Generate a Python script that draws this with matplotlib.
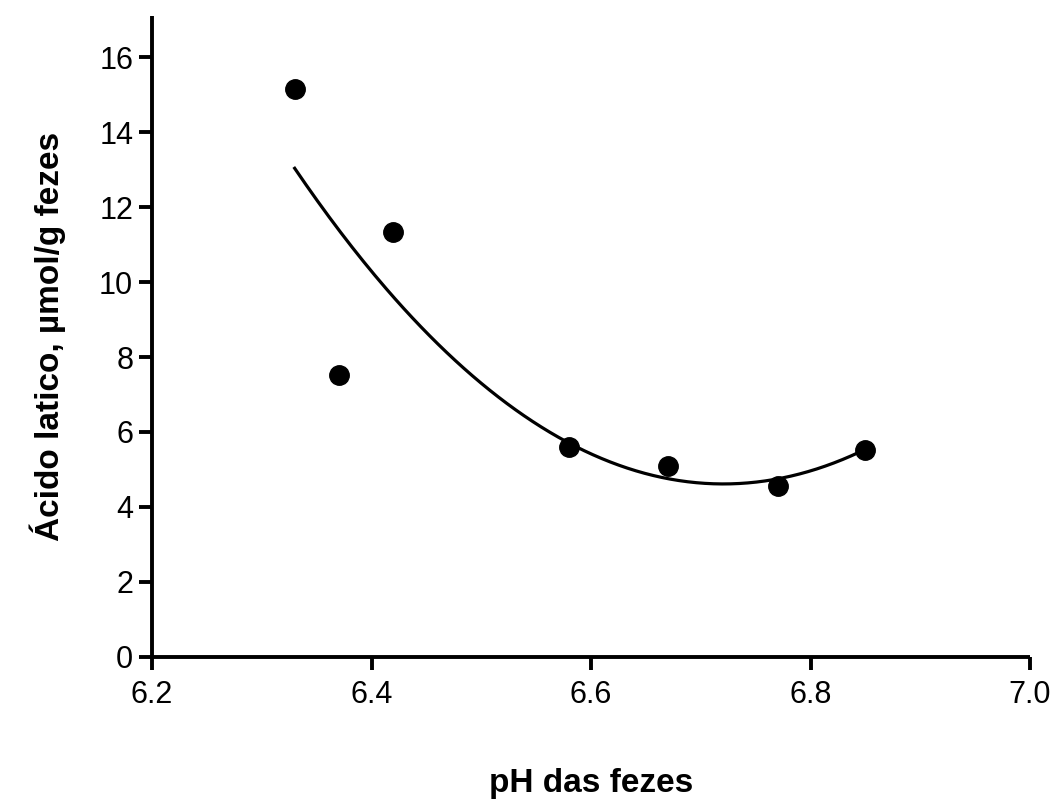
import numpy as np
import matplotlib.pyplot as plt

plt.rcParams['font.family'] = ['Liberation Sans', 'DejaVu Sans']

# pH das fezes vs ácido lático
ph = [6.33, 6.37, 6.42, 6.58, 6.67, 6.77, 6.85]
acido = [15.15, 7.52, 11.33, 5.6, 5.1, 4.56, 5.52]

xticks = [6.2, 6.4, 6.6, 6.8, 7.0]
yticks = [0, 2, 4, 6, 8, 10, 12, 14, 16]

# ajuste polinomial de segunda ordem
coef = np.polyfit(ph, acido, 2)
x_fit = np.linspace(min(ph), max(ph), 200)
y_fit = np.polyval(coef, x_fit)

fig = plt.figure(figsize=(10.57, 8), dpi=100)
ax = fig.add_axes([0.1438, 0.179, 0.8307, 0.801])

ax.plot(x_fit, y_fit, color='black', linewidth=2.3)
ax.plot(ph, acido, 'o', color='black', markersize=14)

ax.set_xlim(6.2, 7.0)
ax.set_ylim(0, 17.1)
ax.set_xticks(xticks)
ax.set_xticklabels(['%.1f' % v for v in xticks])
ax.set_yticks(yticks)

for lado in ['top', 'right']:
    ax.spines[lado].set_visible(False)
for lado in ['left', 'bottom']:
    ax.spines[lado].set_linewidth(2.8)
    ax.spines[lado].set_capstyle('butt')

ax.tick_params(axis='both', direction='out', length=9.5, width=2.8, labelsize=22)
ax.tick_params(axis='y', pad=4)
ax.tick_params(axis='x', pad=7)

ax.set_xlabel('pH das fezes', fontsize=24, fontweight='bold', labelpad=42)
ax.set_ylabel('Ácido latico, µmol/g fezes', fontsize=24, fontweight='bold', labelpad=24)

fig.savefig('out.png', dpi=100)
